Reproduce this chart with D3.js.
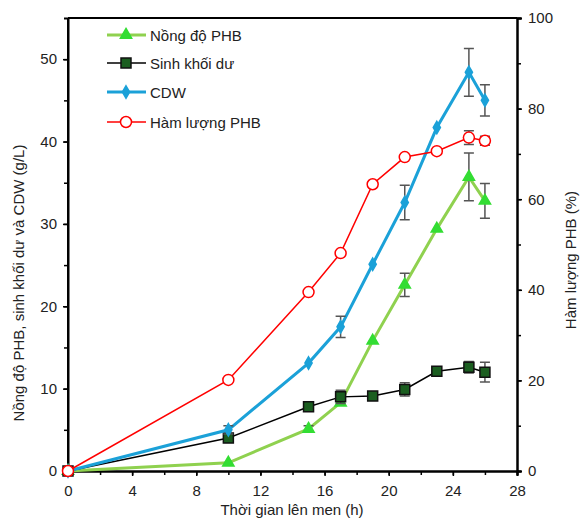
<!DOCTYPE html>
<html><head><meta charset="utf-8">
<script src="https://cdn.jsdelivr.net/npm/d3@7"></script>
<style>body{margin:0;background:#fff}svg{display:block;font-family:"Liberation Sans",Arial,sans-serif}</style>
</head><body><svg id="c" width="582" height="520"></svg>
<script>
const hours = [0, 10, 15, 17, 19, 21, 23, 25, 26];
const phbConc = [0, 1.0, 5.1, 8.3, 15.8, 22.6, 29.4, 35.7, 32.8];
const phbConcErr = [0, 0, 0.4, 0, 0, 1.4, 0, 2.9, 2.1];
const residual = [0, 4.0, 7.8, 9.0, 9.1, 9.9, 12.1, 12.6, 12.0];
const residualErr = [0, 0, 0, 0.8, 0, 0.8, 0, 0.7, 1.2];
const cdw = [0, 5.0, 13.1, 17.5, 25.1, 32.6, 41.7, 48.4, 45.0];
const cdwErr = [0, 0.5, 0, 1.3, 0, 2.1, 0, 2.9, 1.9];
const phbContent = [0, 20.1, 39.5, 48.1, 63.3, 69.3, 70.6, 73.6, 72.9];
const phbContentErr = [0, 0, 0, 0, 0, 0, 0, 1.5, 1.0];
const xTicks = [0, 4, 8, 12, 16, 20, 24, 28];
const yLeftTicks = [0, 10, 20, 30, 40, 50];
const yRightTicks = [0, 20, 40, 60, 80, 100];
const legendLabels = ["Nồng độ PHB", "Sinh khối dư", "CDW", "Hàm lượng PHB"];
const xTitle = "Thời gian lên men (h)";
const yLeftTitle = "Nồng độ PHB, sinh khối dư và CDW (g/L)";
const yRightTitle = "Hàm lượng PHB (%)";

const svg = d3.select("#c");
const L = 68, R = 517, T = 18, B = 471;
const x = d3.scaleLinear().domain([0, 28]).range([L, R]);
const yl = d3.scaleLinear().domain([0, 55]).range([B, T]);
const yr = d3.scaleLinear().domain([0, 100]).range([B, T]);

svg.append("line").attr("x1", L).attr("x2", R).attr("y1", T).attr("y2", T).attr("stroke", "#000").attr("stroke-width", 2);

function styleAxis(g) {
  g.select(".domain").attr("stroke", "#000").attr("stroke-width", 2);
  g.selectAll(".tick line").attr("stroke", "#000").attr("stroke-width", 1.5);
  g.selectAll(".tick text").attr("font-size", 15).attr("fill", "#222");
}
const gx = svg.append("g").attr("transform", `translate(0,${B})`)
  .call(d3.axisBottom(x).tickValues(d3.range(0, 29, 2)).tickSize(4).tickFormat(""));
styleAxis(gx);
const gx2 = svg.append("g").attr("transform", `translate(0,${B})`)
  .call(d3.axisBottom(x).tickValues(xTicks).tickSize(5).tickPadding(9).tickFormat(d3.format("d")));
styleAxis(gx2);
const gl = svg.append("g").attr("transform", `translate(${L},0)`)
  .call(d3.axisLeft(yl).tickValues(d3.range(0, 55, 5)).tickSize(4).tickFormat(""));
styleAxis(gl);
const gl2 = svg.append("g").attr("transform", `translate(${L},0)`)
  .call(d3.axisLeft(yl).tickValues(yLeftTicks).tickSize(5).tickPadding(6).tickFormat(d3.format("d")));
styleAxis(gl2);
gl2.select(".domain").attr("d", `M-5,${B}H0V${T}`);
const gr = svg.append("g").attr("transform", `translate(${R},0)`)
  .call(d3.axisRight(yr).tickValues(d3.range(0, 101, 10)).tickSize(4).tickFormat(""));
styleAxis(gr);
const gr2 = svg.append("g").attr("transform", `translate(${R},0)`)
  .call(d3.axisRight(yr).tickValues(yRightTicks).tickSize(5).tickPadding(6).tickFormat(d3.format("d")));
styleAxis(gr2);

svg.append("text").attr("x", 292).attr("y", 515).attr("text-anchor", "middle").attr("font-size", 15).attr("fill", "#222").text(xTitle);
svg.append("text").attr("transform", "translate(24,283) rotate(-90)").attr("text-anchor", "middle").attr("font-size", 15).attr("fill", "#222").text(yLeftTitle);
svg.append("text").attr("transform", "translate(576,260) rotate(-90)").attr("text-anchor", "middle").attr("font-size", 15).attr("fill", "#222").text(yRightTitle);

const series = [
  {v: phbConc, e: phbConcErr, y: yl, line: "#8fd14f", lw: 3, sym: d3.symbolTriangle, size: 55, fill: "#33dd33", stroke: "#33dd33"},
  {v: residual, e: residualErr, y: yl, line: "#000", lw: 1.5, sym: d3.symbolSquare, size: 100, fill: "#1b5e20", stroke: "#111"},
  {v: cdw, e: cdwErr, y: yl, line: "#1ba1d8", lw: 3, sym: d3.symbolDiamond, size: 45, fill: "#1ba1d8", stroke: "#1ba1d8"},
  {v: phbContent, e: phbContentErr, y: yr, line: "#ff0000", lw: 1.5, sym: d3.symbolCircle, size: 95, fill: "#fff", stroke: "#ff0000"}
];

series.forEach(s => {
  const g = svg.append("g");
  g.append("path").datum(hours.map((h, i) => [h, s.v[i]]))
    .attr("fill", "none").attr("stroke", s.line).attr("stroke-width", s.lw)
    .attr("d", d3.line().x(d => x(d[0])).y(d => s.y(d[1])));
  const eb = g.selectAll(".eb").data(hours.map((h, i) => ({h, v: s.v[i], e: s.e[i]})).filter(d => d.e > 0)).enter().append("g");
  eb.append("path").attr("fill", "none").attr("stroke", "#555").attr("stroke-width", 1.5)
    .attr("d", d => {
      const cx = x(d.h), y1 = s.y(d.v + d.e), y2 = s.y(d.v - d.e);
      return `M${cx - 5},${y1}H${cx + 5}M${cx},${y1}V${y2}M${cx - 5},${y2}H${cx + 5}`;
    });
  g.selectAll(".m").data(hours.map((h, i) => [h, s.v[i]])).enter().append("path")
    .attr("transform", d => `translate(${x(d[0])},${s.y(d[1])})`)
    .attr("d", d3.symbol().type(s.sym).size(s.size))
    .attr("fill", s.fill).attr("stroke", s.stroke).attr("stroke-width", 1.5);
});

const legY = [35, 63, 92, 122];
series.forEach((s, i) => {
  const g = svg.append("g").attr("transform", `translate(0,${legY[i]})`);
  g.append("line").attr("x1", 107).attr("x2", 146).attr("stroke", s.line).attr("stroke-width", s.lw);
  g.append("path").attr("transform", "translate(126,0)").attr("d", d3.symbol().type(s.sym).size(s.size))
    .attr("fill", s.fill).attr("stroke", s.stroke).attr("stroke-width", 1.5);
  g.append("text").attr("x", 150).attr("y", 5.5).attr("font-size", 15).attr("fill", "#222").text(legendLabels[i]);
});
</script></body></html>
